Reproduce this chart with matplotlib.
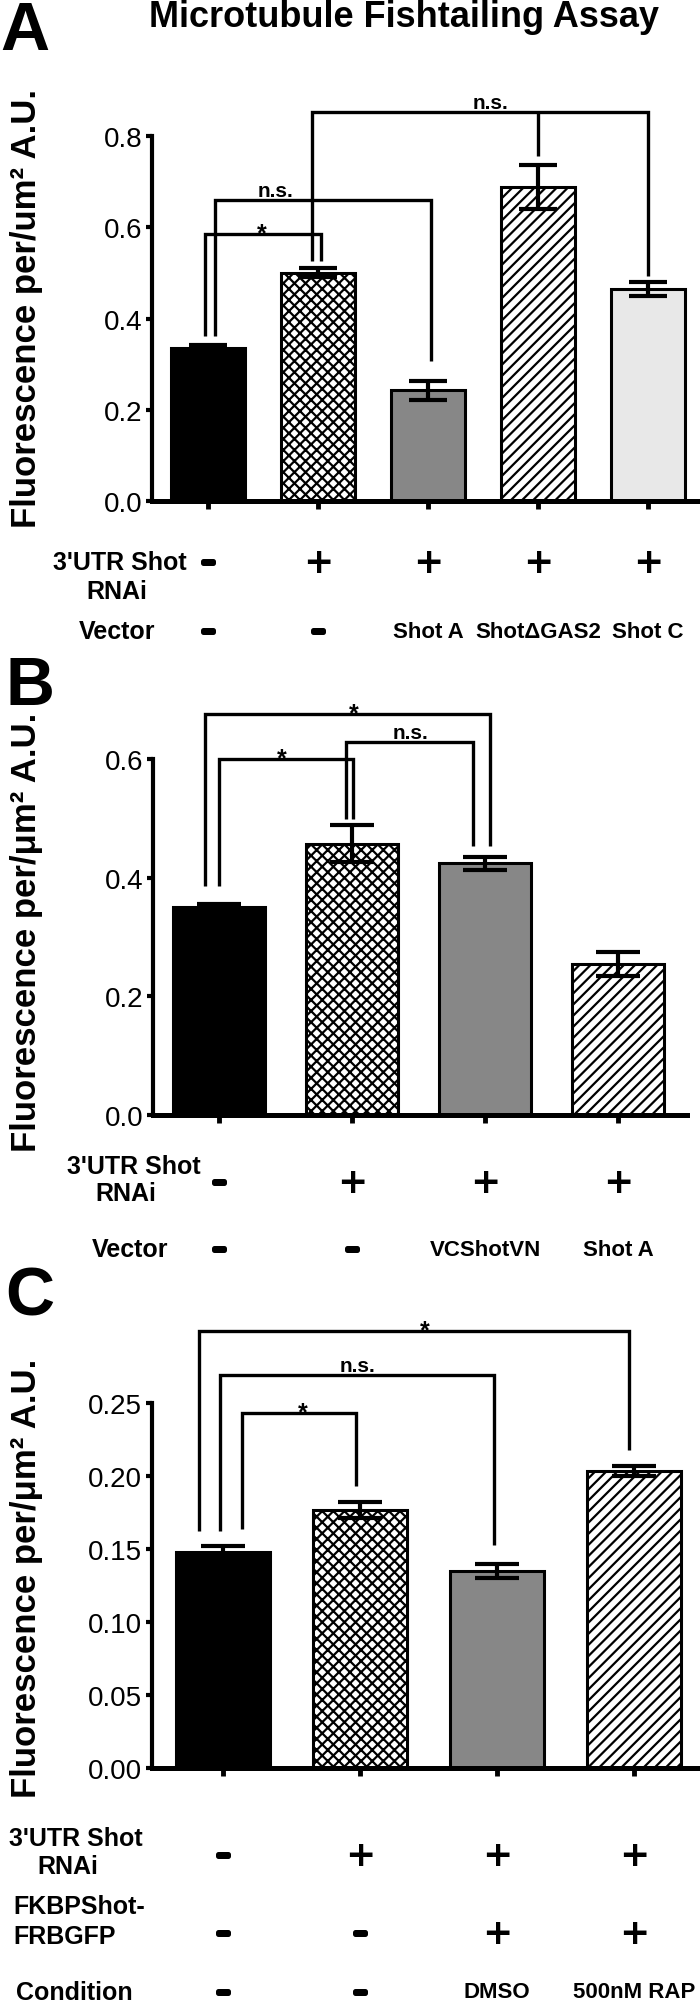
import matplotlib
matplotlib.use('Agg')
import matplotlib.pyplot as plt
import matplotlib.patheffects as pe
from matplotlib.transforms import blended_transform_factory as btf

W, H = 700, 2006
plt.rcParams['font.family'] = ['Liberation Sans', 'DejaVu Sans']
plt.rcParams['hatch.linewidth'] = 1.6

# ---------------- data ----------------
A_vals = [0.335, 0.500, 0.243, 0.688, 0.464]
A_err = [0.007, 0.010, 0.021, 0.048, 0.015]
A_rnai = ['-', '+', '+', '+', '+']
A_vector = ['-', '-', 'Shot A', 'Shot\u0394GAS2', 'Shot C']

B_vals = [0.350, 0.457, 0.424, 0.255]
B_err = [0.006, 0.031, 0.011, 0.020]
B_rnai = ['-', '+', '+', '+']
B_vector = ['-', '-', 'VCShotVN', 'Shot A']

C_vals = [0.148, 0.177, 0.135, 0.2035]
C_err = [0.004, 0.0055, 0.005, 0.0033]
C_rnai = ['-', '+', '+', '+']
C_fkbp = ['-', '-', '+', '+']
C_condition = ['-', '-', 'DMSO', '500nM RAP']

A_ticks = [0.0, 0.2, 0.4, 0.6, 0.8]
A_ticklabels = ['0.0', '0.2', '0.4', '0.6', '0.8']
B_ticks = [0.0, 0.2, 0.4, 0.6]
B_ticklabels = ['0.0', '0.2', '0.4', '0.6']
C_ticks = [0.00, 0.05, 0.10, 0.15, 0.20, 0.25]
C_ticklabels = ['0.00', '0.05', '0.10', '0.15', '0.20', '0.25']

# significance brackets (x in bar index units, y in data units)
A_brackets = [([-0.03, -0.03, 1.03, 1.03], [0.362, 0.585, 0.585, 0.526]),
              ([0.064, 0.064, 2.03, 2.03], [0.362, 0.66, 0.66, 0.307]),
              ([0.945, 0.945, 4.0, 4.0], [0.526, 0.853, 0.853, 0.493]),
              ([3.0, 3.0], [0.853, 0.756])]
A_sig = [(0.49, 0.585, '*'), (0.61, 0.66, 'n.s.'), (2.57, 0.853, 'n.s.')]
B_brackets = [([-0.105, -0.105, 2.04, 2.04], [0.386, 0.676, 0.676, 0.453]),
              ([0.0, 0.0, 1.01, 1.01], [0.386, 0.6, 0.6, 0.499]),
              ([0.955, 0.955, 1.91, 1.91], [0.499, 0.629, 0.629, 0.453])]
B_sig = [(1.01, 0.676, '*'), (0.47, 0.6, '*'), (1.44, 0.629, 'n.s.')]
C_brackets = [([-0.175, -0.175, 2.96, 2.96], [0.162, 0.299, 0.299, 0.218]),
              ([-0.022, -0.022, 1.98, 1.98], [0.162, 0.269, 0.269, 0.153]),
              ([0.139, 0.139, 0.97, 0.97], [0.164, 0.243, 0.243, 0.193])]
C_sig = [(1.47, 0.299, '*'), (0.98, 0.269, 'n.s.'), (0.58, 0.243, '*')]

# ---------------- styling ----------------
fills = [dict(facecolor='black', hatch=None),
         dict(facecolor='white', hatch='xxx'),
         dict(facecolor='#878787', hatch=None),
         dict(facecolor='white', hatch='///'),
         dict(facecolor='#e8e8e8', hatch=None)]

fig = plt.figure(figsize=(W / 100, H / 100), dpi=100)


def fy(ypx):
    return 1 - ypx / H


def make_axes(left, right, top, bottom, c0, spacing):
    ax = fig.add_axes([left / W, 1 - bottom / H, (right - left) / W, (bottom - top) / H])
    ax.set_xlim((left - c0) / spacing, (right - c0) / spacing)
    return ax


def draw_panel(ax, vals, errs, ticks, ticklabels, brackets, sigs, width, capsize):
    x = list(range(len(vals)))
    for i, v in enumerate(vals):
        st = fills[i]
        ax.bar(i, v, width=width, facecolor=st['facecolor'], edgecolor='black',
               hatch=st['hatch'], linewidth=2.2, zorder=2)
    ax.errorbar(x, vals, yerr=errs, fmt='none', ecolor='black', elinewidth=3.0,
                capsize=capsize, capthick=3.0, zorder=3)
    ax.set_ylim(ticks[0], ticks[-1])
    ax.set_yticks(ticks)
    ax.set_yticklabels(ticklabels)
    ax.set_xticks(x)
    ax.tick_params(axis='y', direction='out', length=4, width=3, labelsize=20, pad=3)
    ax.tick_params(axis='x', direction='out', length=6, width=3.5, labelbottom=False)
    for s in ['top', 'right']:
        ax.spines[s].set_visible(False)
    ax.spines['left'].set_linewidth(3)
    ax.spines['bottom'].set_linewidth(3.6)
    for s in ['left', 'bottom']:
        ax.spines[s].set_capstyle('projecting')
    for bx, by in brackets:
        ax.plot(bx, by, color='black', lw=2.4, clip_on=False, zorder=4,
                solid_capstyle='butt', solid_joinstyle='miter')
    for sx, sy, t in sigs:
        if t == '*':
            ax.annotate(t, xy=(sx, sy), xytext=(0, -4.5), textcoords='offset points',
                        ha='center', va='baseline', fontsize=18, fontweight='bold',
                        annotation_clip=False)
        else:
            ax.annotate(t, xy=(sx, sy), xytext=(0, 3), textcoords='offset points',
                        ha='center', va='baseline', fontsize=15, fontweight='bold',
                        annotation_clip=False)


dash_fx = [pe.withStroke(linewidth=3.6, foreground='black')]


def row(ax, items, ypx, wsize=16):
    tr = btf(ax.transData, fig.transFigure)
    for i, t in enumerate(items):
        if t == '+':
            ax.text(i, fy(ypx), '+', transform=tr, ha='center', va='center',
                    fontsize=26, fontweight='bold', family=['DejaVu Sans'])
        elif t == '-':
            ax.text(i, fy(ypx), '\u2013', transform=tr, ha='center', va='center',
                    fontsize=15, fontweight='bold', path_effects=dash_fx)
        else:
            ax.text(i, fy(ypx), t, transform=tr, ha='center', va='center',
                    fontsize=wsize, fontweight='bold')


def label(xpx, ypx, t, ha='center'):
    fig.text(xpx / W, fy(ypx), t, ha=ha, va='center', fontsize=18, fontweight='bold')


YLAB = 25

# ---------------- Panel A ----------------
fig.text(0.0, fy(50), 'A', ha='left', va='baseline', fontsize=49, fontweight='bold')
fig.text(404 / W, fy(27), 'Microtubule Fishtailing Assay', ha='center', va='baseline',
         fontsize=26, fontweight='bold')
axA = make_axes(152, 700, 137, 502, 208, 110)
draw_panel(axA, A_vals, A_err, A_ticks, A_ticklabels, A_brackets, A_sig, 0.67, 13.5)
fig.text(27 / W, fy(309), 'Fluorescence per/um\u00b2 A.U.', rotation=90, ha='center',
         va='center', fontsize=YLAB, fontweight='bold')
label(120, 563, "3'UTR Shot")
label(117, 592, "RNAi")
row(axA, A_rnai, 563)
label(117, 632, "Vector")
row(axA, A_vector, 632)

# ---------------- Panel B ----------------
fig.text(0.008, fy(705), 'B', ha='left', va='baseline', fontsize=49, fontweight='bold')
axB = make_axes(153, 687, 760, 1116, 219, 133)
draw_panel(axB, B_vals, B_err, B_ticks, B_ticklabels, B_brackets, B_sig, 0.69, 16)
fig.text(27 / W, fy(932), 'Fluorescence per/\u03bcm\u00b2 A.U.', rotation=90, ha='center',
         va='center', fontsize=YLAB, fontweight='bold')
label(134, 1167, "3'UTR Shot")
label(126, 1194, "RNAi")
row(axB, B_rnai, 1183)
label(130, 1250, "Vector")
row(axB, B_vector, 1250)

# ---------------- Panel C ----------------
fig.text(0.008, fy(1315), 'C', ha='left', va='baseline', fontsize=49, fontweight='bold')
axC = make_axes(152, 700, 1404, 1769, 223, 137)
draw_panel(axC, C_vals, C_err, C_ticks, C_ticklabels, C_brackets, C_sig, 0.69, 16)
fig.text(27 / W, fy(1578), 'Fluorescence per/\u03bcm\u00b2 A.U.', rotation=90, ha='center',
         va='center', fontsize=YLAB, fontweight='bold')
label(76, 1839, "3'UTR Shot")
label(68, 1867, "RNAi")
row(axC, C_rnai, 1856)
label(13, 1907, "FKBPShot-", ha='left')
label(13, 1937, "FRBGFP", ha='left')
row(axC, C_fkbp, 1934)
label(16, 1993, "Condition", ha='left')
row(axC, C_condition, 1993)

fig.savefig('out.png', dpi=100)
